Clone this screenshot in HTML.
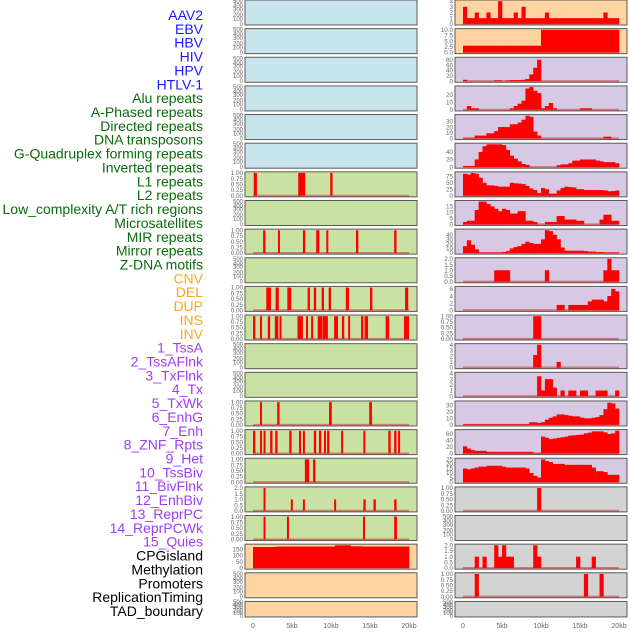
<!DOCTYPE html>
<html><head><meta charset="utf-8"><style>
html,body{margin:0;padding:0;background:#fff;}
svg text{font-family:"Liberation Sans",sans-serif;}
</style></head><body>
<svg id="chart" width="630" height="630" viewBox="0 0 630 630" xmlns="http://www.w3.org/2000/svg"></svg>
<script>
// ---- labels ----
const labelNames = ["AAV2","EBV","HBV","HIV","HPV","HTLV-1","Alu repeats","A-Phased repeats","Directed repeats","DNA transposons","G-Quadruplex forming repeats","Inverted repeats","L1 repeats","L2 repeats","Low_complexity A/T rich regions","Microsatellites","MIR repeats","Mirror repeats","Z-DNA motifs","CNV","DEL","DUP","INS","INV","1_TssA","2_TssAFlnk","3_TxFlnk","4_Tx","5_TxWk","6_EnhG","7_Enh","8_ZNF_Rpts","9_Het","10_TssBiv","11_BivFlnk","12_EnhBiv","13_ReprPC","14_ReprPCWk","15_Quies","CPGisland","Methylation","Promoters","ReplicationTiming","TAD_boundary"];
const labelGroups = [6,13,5,15,5];
const groupColors = ["#1a1aff","#0a6b0a","#ffa51f","#a13cf5","#000000"];

// ---- x axis ----
const xTickValues = [0,5,10,15,20];
const xTickLabels = ["0","5kb","10kb","15kb","20kb"];

// ---- right column: binned profiles (40 bins, 0.5kb each) ----
const rAAV2 = [3,1,1,2,1,1,2,1,1,4,1,1,1,2,1,3,1,1,1,1,1,2,1,1,1,1,1,1,1,1,1,1,1,1,1,1,2,1,1,1];
const rEBV = [3,3,3,3,3,3,3,3,3,3,3,3,3,3,3,3,3,3,3,3,10,10,10,10,10,10,10,10,10,10,10,10,10,10,10,10,10,10,10,10];
const rR3 = [5,0,0,0,0,0,0,0,3,3,0,2,4,4,4,5,8,25,50,80,0,0,0,0,0,0,0,0,0,0,0,0,0,0,0,0,0,0,0,0];
const rR4 = [0,5,2,2,0,0,0,0,0,0,0,0,2,5,8,12,28,30,25,22,2,5,9,2,0,0,0,0,0,0,2,2,2,0,0,0,0,0,0,0];
const rR5 = [1,1,1,5,5,5,9,9,13,20,20,20,25,25,28,33,40,38,12,5,0,0,0,0,0,0,0,0,0,0,0,0,0,0,0,0,3,3,0,0];
const rR6 = [3,3,3,20,40,55,60,60,60,60,58,45,30,22,15,8,6,0,0,0,0,0,0,0,5,7,7,10,17,17,20,20,20,20,17,15,13,13,13,10];
const rR7 = [85,82,88,85,70,50,40,40,38,35,35,35,50,48,47,45,38,28,22,10,30,25,8,8,20,30,35,33,32,25,25,22,22,22,22,22,20,17,18,20];
const rR8 = [2,3,3,12,19,19,17,15,13,11,13,12,9,9,11,11,3,3,2,0,0,2,2,2,7,7,4,4,4,3,3,0,0,0,0,4,8,8,3,3];
const rR9 = [15,28,18,8,1,1,1,1,1,1,2,4,10,13,15,20,25,22,20,20,30,50,48,40,30,12,5,5,5,5,5,4,3,3,2,2,1,1,1,1];
const rR10 = [0,0,0,0,0,0,0,0,1,1,1,1,0,0,0,0,0,0,0,0,0,1,0,0,0,0,0,0,0,0,0,0,0,0,0,0,1,2,1,1];
const rR11 = [0,0,0,0,0,0,0,0,0,0,0,0,0,0,0,0,0,0,0,0,0,0,0,0,1.5,1.5,0,1.5,1.5,1.5,1.5,1.5,2.5,3,3,3,2.5,4,6,5.3];
const rR12 = [0,0,0,0,0,0,0,0,0,0,0,0,0,0,0,0,0,0,1,1,0,0,0,0,0,0,0,0,0,0,0,0,0,0,0,0,0,0,0,0];
const rR13 = [0,0,0,0,0,0,0,0,0,0,0,0,0,0,0,0,0,0,2.2,4,0,0,0,0,1,0,0,0,0,0,0,0,0,0,0,0,0,0,0,0];
const rR14 = [0,0,0,0,0,0,0,0,0,0,0,0,0,0,0,0,0,0,0,3.5,1,3,3,1.5,0,1,0,1,1,0,1,1,0,0,1,1,1,0,0,1];
const rR15 = [1,1,1,1,1,1,1,1,1,1,1,1,1,1,1,1,1,4,4,3,4,8,11,13,16,16,15,14,13,13,11,10,10,11,12,15,24,34,33,25];
const rR16 = [22,15,10,8,8,8,5,5,5,5,5,5,5,5,5,5,5,5,2,2,52,48,44,46,48,50,52,55,56,57,58,62,64,68,68,68,65,60,62,70];
const rR17 = [15,14,15,16,17,17,18,18,18,18,17,16,16,16,16,16,15,10,7,5,25,23,22,20,20,20,19,19,19,19,19,19,19,16,12,12,11,8,8,8];
const rR18 = [0,0,0,0,0,0,0,0,0,0,0,0,0,0,0,0,0,0,0,1,0,0,0,0,0,0,0,0,0,0,0,0,0,0,0,0,0,0,0,0];
const rR20 = [0,0,0,1,0,1,0,0,2,1,2,1,1,0,0,0,0,0,2,1,0,0,0,0,0,0,0,0,0,1,0,0,0,1,0,0,0,0,0,0];
const rR21 = [0,0,0,1,0,0,0,0,0,0,0,0,0,0,0,0,0,0,0,0,0,0,0,0,0,0,0,0,0,0,0,1,0,0,0,1,0,0,0,0];
const lCPG = [168,168,168,168,168,168,172,172,172,172,172,172,172,172,172,172,172,172,172,172,172,182,182,182,182,174,174,174,172,172,172,172,172,172,172,172,172,172,172,172];

// ---- left column: interval features (kb) ----
const l7Start = [0.1,5.8,9.9];
const l7End = [0.5,6.7,10.2];
const l9Start = [1.3,3.2,6.4,8.1,9.4,13.2,18.1];
const l9End = [1.6,3.4,6.7,8.5,9.6,13.5,18.4];
const l11Start = [1.7,2.9,4.4,7.0,7.8,8.8,9.7,11.9,15.0,19.5];
const l11End = [2.3,3.3,4.9,7.3,8.1,9.1,10.0,12.3,15.3,19.9];
const l12Start = [0,0.9,1.9,2.8,3.4,5.7,6.8,7.45,8.3,8.9,10.4,11.4,12.2,13.85,14.3,17.0,19.35];
const l12End = [0.3,1.15,2.2,3.25,3.6,6.4,7.05,7.7,8.85,9.6,10.9,11.7,12.45,14.15,14.75,17.45,20.0];
const l15Start = [0.9,3.1,9.75,14.9];
const l15End = [1.15,3.4,10.1,15.25];
const l16Start = [0,0.9,1.35,2.2,2.85,4.65,5.9,6.4,7.8,8.45,9.1,9.5,11.3,14.15,17.35,18.1,18.6];
const l16End = [0.3,1.15,1.6,2.5,3.15,4.95,6.15,6.65,8.1,8.75,9.35,9.8,11.55,14.4,17.65,18.4,18.85];
const l17Start = [6.65,7.7];
const l17End = [7.2,8.0];
const l18Start = [1.35,4.85,6.4,10.4,14.15,15.45,18.1];
const l18End = [1.6,5.1,6.65,10.65,14.45,15.75,18.4];
const l18Values = [2,1,1,1,1,1,1];
const l19Start = [1.35,4.35,14.1,18.1];
const l19End = [1.6,4.6,14.35,18.45];

// ---- per-panel axis config ----
const rightMax = [4,10,85,30,40,60,88,19,50,2,6.4,1,4,4,35,70,25,1,0,2,1,0];
const rightTicks = [[0,1,2,3,4],[0,2.5,5,7.5,10],[0,20,40,60,80],[0,10,20],[0,10,20,30],[0,20,40],[0,25,50,75],[0,5,10,15],[0,10,20,30,40],[0,0.5,1,1.5,2],[0,2,4,6],[0,0.25,0.5,0.75,1],[0,1,2,3,4],[0,1,2,3,4],[0,10,20,30],[0,20,40,60],[0,5,10,15,20,25],[0,0.25,0.5,0.75,1],null,[0,0.5,1,1.5,2],[0,0.25,0.5,0.75,1],null];
const rightSeries = [rAAV2,rEBV,rR3,rR4,rR5,rR6,rR7,rR8,rR9,rR10,rR11,rR12,rR13,rR14,rR15,rR16,rR17,rR18,null,rR20,rR21,null];
const leftMax = [0,0,0,0,0,0,1,0,1,0,1,1,0,0,1,1,1,2,1,182,0,0];
const leftTicks = [null,null,null,null,null,null,[0,0.25,0.5,0.75,1],null,[0,0.25,0.5,0.75,1],null,[0,0.25,0.5,0.75,1],[0,0.25,0.5,0.75,1],null,null,[0,0.25,0.5,0.75,1],[0,0.25,0.5,0.75,1],[0,0.25,0.5,0.75,1],[0,0.5,1,1.5,2],[0,0.25,0.5,0.75,1],[0,50,100,150],null,null];
const leftStarts = [null,null,null,null,null,null,l7Start,null,l9Start,null,l11Start,l12Start,null,null,l15Start,l16Start,l17Start,l18Start,l19Start,null,null,null];
const leftEnds = [null,null,null,null,null,null,l7End,null,l9End,null,l11End,l12End,null,null,l15End,l16End,l17End,l18End,l19End,null,null,null];
const emptyTickLabels = ["0","100","200","300","400","500"];

const NS="http://www.w3.org/2000/svg";
const svg=document.getElementById('chart');
function mk(tag,attrs,parent){const e=document.createElementNS(NS,tag);for(const k in attrs)e.setAttribute(k,attrs[k]);(parent||svg).appendChild(e);return e;}
function fmt(v,ticks){const mx=Math.max(...ticks);if(mx<=1)return v.toFixed(2);if(mx<=2||mx===10&&ticks.includes(2.5))return v.toFixed(1);return String(v);}

// labels
let li=0;
labelGroups.forEach((n,g)=>{for(let k=0;k<n;k++){
  const t=mk('text',{x:203,y:20+li*13.86,'text-anchor':'end','font-size':'14',fill:groupColors[g]});
  
  
  t.textContent=labelNames[li];li++;}});

const cols=[{x0:245,x1:417,zero:253,name:'left'},{x0:455,x1:627,zero:463,name:'right'}];
const kbPx=7.8;
function rowTop(r){return r*28.64;}
function rowH(r){return r===21?15.5:25;}
function bgLeft(r){return r<6?'#c8e4ec':(r<19?'#c9e2a3':'#ffd4a1');}
function bgRight(r){return r<2?'#ffd4a1':(r<17?'#d7c8e3':'#d3d3d3');}

for(let r=0;r<22;r++){
  for(let c=0;c<2;c++){
    const col=cols[c],top=rowTop(r),h=rowH(r);
    const g=mk('g',{});
    
    
    const bg=mk('rect',{x:col.x0,y:top,width:col.x1-col.x0,height:h,fill:c===0?bgLeft(r):bgRight(r),stroke:'#5a5a5a','stroke-width':1},g);
    
    
    const maxV=c===0?leftMax[r]:rightMax[r];
    const ticks=c===0?leftTicks[r]:rightTicks[r];
    const lo=-0.05*maxV,hi=1.05*maxV;
    const yS=v=>top+h-(v-lo)/(hi-lo)*h;
    const xS=kb=>col.zero+kb*kbPx;
    const tickX=col.x0-2;
    if(!ticks){
      const offs=[0.95,0.75,0.59,0.37,0.22,0.04];
      emptyTickLabels.forEach((lab,i)=>{
        const t=mk('text',{x:tickX,y:top+h*offs[i]+2,'text-anchor':'end','font-size':'6',fill:'#666'},g);
        
        
        t.textContent=lab;});
      continue;
    }
    ticks.forEach(v=>{
      const t=mk('text',{x:tickX,y:yS(v)+2.2,'text-anchor':'end','font-size':'6.3',fill:'#666'},g);
      
      
      t.textContent=fmt(v,ticks);});
    // baseline
    const bl=mk('line',{x1:xS(0),x2:xS(20),y1:yS(0),y2:yS(0),stroke:'rgba(190,40,40,0.5)','stroke-width':2},g);
    
    
    let series=null;
    if(c===1)series=rightSeries[r];
    else if(r===19)series=lCPG;
    if(series){
      const bw=20/series.length;
      series.forEach((v,i)=>{
        if(v<=0)return;
        const b=mk('rect',{x:xS(i*bw),y:yS(v),width:bw*kbPx+0.3,height:yS(0)-yS(v),fill:'#ff0000'},g);
        
        
      });
    } else if(c===0&&leftStarts[r]){
      const st=leftStarts[r],en=leftEnds[r];
      st.forEach((s,i)=>{
        const v=(r===17)?l18Values[i]:1;
        const b=mk('rect',{x:xS(s),y:yS(v),width:Math.max(2,(en[i]-s)*kbPx),height:yS(0)-yS(v),fill:'#ff0000'},g);
        
        
      });
    }
  }
}
// x axes
cols.forEach(col=>{
  xTickValues.forEach((v,i)=>{
    const t=mk('text',{x:col.zero+v*kbPx,y:628,'text-anchor':'middle','font-size':'7',fill:'#666'});
    
    
    t.textContent=xTickLabels[i];});
});
</script>
</body></html>
